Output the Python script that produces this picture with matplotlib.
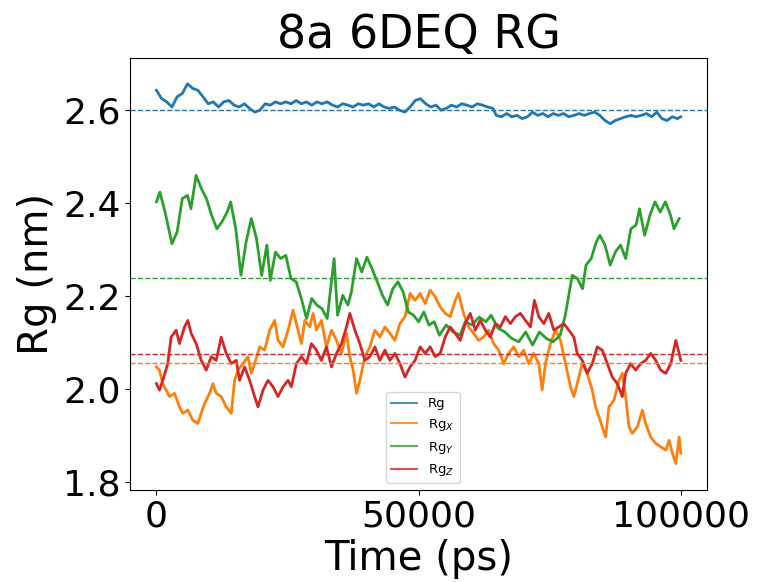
import matplotlib
matplotlib.use('Agg')
import matplotlib.pyplot as plt

# Rg (total)
rg_t = [0, 987, 1974, 2961, 3948, 4935, 5922, 6909, 7896, 8883,
        9870, 10857, 11844, 12831, 13818, 14805, 15792, 16779, 17766, 18753,
        19740, 20727, 21714, 22701, 23688, 24675, 25662, 26649, 27636, 28623,
        29610, 30597, 31584, 32571, 33558, 34545, 35532, 36519, 37506, 38493,
        39480, 40467, 41454, 42441, 43428, 44415, 45402, 46389, 47376, 48363,
        49350, 50337, 51324, 52311, 53298, 54285, 55272, 56259, 57246, 58233,
        59220, 60207, 61194, 62181, 63168, 64155,
        64813, 65800, 66787, 67774, 68761, 69748, 70735, 71722, 72709, 73696,
        74683, 75670, 76657, 77644, 78631, 79618, 80605, 81592, 82579, 83566,
        84553, 85540, 86527, 87514, 88501, 89488, 90475, 91462, 92449, 93436,
        94423, 95410, 96397, 97384, 98371, 99358, 100000]
rg = [2.643, 2.625, 2.618, 2.607, 2.629, 2.636, 2.657, 2.647, 2.643, 2.629,
      2.614, 2.618, 2.607, 2.618, 2.621, 2.611, 2.607, 2.614, 2.604, 2.596,
      2.600, 2.614, 2.611, 2.618, 2.614, 2.618, 2.614, 2.621, 2.614, 2.618,
      2.611, 2.618, 2.614, 2.618, 2.611, 2.607, 2.614, 2.611, 2.607, 2.614,
      2.611, 2.614, 2.607, 2.614, 2.607, 2.604, 2.607, 2.600, 2.596, 2.607,
      2.621, 2.625, 2.614, 2.607, 2.611, 2.600, 2.604, 2.611, 2.607, 2.614,
      2.611, 2.607, 2.614, 2.611, 2.607, 2.604,
      2.589, 2.586, 2.593, 2.586, 2.589, 2.582, 2.586, 2.596, 2.589, 2.593,
      2.586, 2.593, 2.589, 2.593, 2.586, 2.589, 2.593, 2.589, 2.593, 2.596,
      2.589, 2.578, 2.571, 2.578, 2.582, 2.586, 2.589, 2.586, 2.589, 2.593,
      2.586, 2.596, 2.582, 2.578, 2.586, 2.582, 2.586]

# Rg_x
rgx_t = [0, 573, 1210, 1847, 2484, 3440, 4395, 5032, 5988, 6943,
         7899, 8536, 9173, 10128, 10765, 11402, 12358, 13313, 14269, 14906,
         15543, 16498, 17454, 18091, 18728, 19683, 20639, 21594, 22550, 23187,
         24142, 25098, 26053, 27009, 27646, 28283, 29238, 29875, 30512, 31468,
         32423, 33379, 34334, 35290, 36245, 36882, 37519, 38156, 38793, 39749,
         40704, 41660, 42615, 43571, 44526, 45482, 46437, 47393,
         48374, 49330, 50286, 51242, 52198, 53154, 54110, 55066, 56022, 56978,
         57615, 58571, 59527, 60483, 61439, 62395, 63351, 64307, 65263, 66218,
         67174, 68130, 69086, 70042, 70998, 71954, 72910, 73547, 74185, 75141,
         76097, 77053, 78009, 78965, 79602, 80239, 81195, 82151, 83107, 83744,
         84381, 85019, 85656, 86293, 87249, 88206, 88843, 89480, 90117, 90755,
         91711, 92667, 93304, 94260, 95216, 96172, 97128, 97765, 98403, 99040,
         99677, 100000]
rgx = [2.048, 2.041, 2.012, 1.998, 1.984, 1.991, 1.962, 1.948, 1.955, 1.933,
       1.926, 1.948, 1.969, 1.991, 2.012, 1.991, 1.984, 1.962, 1.948, 2.019,
       2.041, 2.055, 2.070, 2.034, 2.055, 2.091, 2.084, 2.127, 2.148, 2.105,
       2.091, 2.127, 2.170, 2.127, 2.098, 2.148, 2.134, 2.163, 2.127, 2.148,
       2.091, 2.127, 2.105, 2.077, 2.120, 2.070, 2.041, 1.991, 2.019, 2.070,
       2.091, 2.127, 2.112, 2.134, 2.120, 2.105, 2.141, 2.156,
       2.206, 2.191, 2.206, 2.184, 2.213, 2.199, 2.177, 2.163, 2.156, 2.191,
       2.206, 2.163, 2.134, 2.120, 2.105, 2.112, 2.127, 2.098, 2.084, 2.055,
       2.077, 2.091, 2.070, 2.084, 2.055, 2.077, 2.055, 1.998, 2.055, 2.098,
       2.127, 2.105, 2.055, 2.005, 1.984, 2.012, 2.055, 2.034, 1.998, 1.962,
       1.941, 1.919, 1.897, 1.962, 1.976, 2.019, 2.034, 1.984, 1.919, 1.905,
       1.919, 1.955, 1.926, 1.897, 1.883, 1.876, 1.869, 1.890, 1.862, 1.840,
       1.897, 1.862]

# Rg_y
rgy_t = [0, 658, 1645, 2961, 3948, 4935, 5922, 6580, 7567, 8554,
         9541, 10528, 11515, 12502, 13489, 14147, 15134, 16121, 17108, 18095,
         19082, 20069, 21056, 21714, 22701, 23688, 24675, 25662, 26649, 27636,
         28623, 29610, 30597, 31584, 32571, 33887, 34545, 35532, 36519, 37177,
         38164, 39151, 40138, 41125, 42112, 43099, 44086, 45073, 46060, 47047,
         48034, 49021, 50008, 50995, 51982, 52969, 53956, 55272, 56588, 57904,
         58891, 60207, 61523, 62839, 63826, 65142, 66458, 67774, 69090, 70406,
         71722, 73038, 74354, 75670, 76986, 77973, 78631, 79289, 80276, 81263,
         81921, 82908, 83895, 84553, 85540, 86527, 87514, 88501, 89488, 90475,
         91462, 92120, 93107, 94094, 95081, 96068, 97055, 98042, 98700, 99687]
rgy = [2.403, 2.424, 2.381, 2.313, 2.338, 2.410, 2.417, 2.388, 2.460, 2.432,
       2.410, 2.374, 2.345, 2.360, 2.381, 2.403, 2.345, 2.245, 2.317, 2.367,
       2.324, 2.245, 2.310, 2.234, 2.295, 2.281, 2.288, 2.238, 2.231, 2.195,
       2.152, 2.195, 2.181, 2.173, 2.152, 2.281, 2.159, 2.202, 2.181, 2.209,
       2.281, 2.252, 2.284, 2.259, 2.231, 2.202, 2.181, 2.216, 2.231, 2.209,
       2.166, 2.159, 2.145, 2.166, 2.138, 2.145, 2.116, 2.138, 2.123, 2.116,
       2.145, 2.138, 2.155, 2.145, 2.159, 2.131, 2.123, 2.109, 2.102, 2.123,
       2.095, 2.123, 2.109, 2.102, 2.116, 2.159, 2.202, 2.245, 2.238, 2.216,
       2.267, 2.281, 2.317, 2.331, 2.310, 2.267, 2.295, 2.310, 2.281, 2.345,
       2.353, 2.388, 2.331, 2.374, 2.403, 2.381, 2.403, 2.374, 2.345, 2.367]

# Rg_z
rgz_t = [0, 573, 1210, 2166, 2803, 3758, 4395, 5351, 5988, 6625,
         7580, 8536, 9491, 10447, 11402, 12358, 13313, 14269, 15224, 15861,
         16817, 17772, 18728, 19365, 20320, 21276, 22231, 23187, 24142, 25098,
         25735, 26690, 27646, 28601, 29557, 30512, 31468, 32423, 33379, 34334,
         35290, 36245, 36882, 37838, 38793, 39749, 40704, 41660, 42615, 43571,
         44526, 45482, 46437, 47393,
         48374, 49330, 50286, 51242, 52198, 53154, 54110, 55066, 56022, 56978,
         57934, 58890, 59846, 60802, 61758, 62714, 63670, 64626, 65582, 66538,
         67493, 68449, 69405, 70361, 71317, 72082, 72910, 73866, 74822, 75778,
         76734, 77690, 78646, 79602, 80239, 81195, 82151, 83107, 84063, 85019,
         85975, 86930, 87887, 88843, 89480, 90436, 91392, 92348, 93304, 94260,
         95216, 96172, 97128, 98084, 99040, 99677, 100000]
rgz = [2.012, 1.998, 2.019, 2.055, 2.112, 2.127, 2.098, 2.134, 2.148, 2.120,
       2.098, 2.062, 2.041, 2.070, 2.062, 2.112, 2.077, 2.055, 2.062, 2.019,
       2.048, 2.019, 1.984, 1.962, 1.998, 2.019, 2.005, 1.984, 2.005, 2.019,
       2.005, 2.055, 2.070, 2.055, 2.098, 2.084, 2.062, 2.091, 2.048, 2.077,
       2.098, 2.134, 2.163, 2.127, 2.098, 2.062, 2.070, 2.091, 2.062, 2.084,
       2.062, 2.077, 2.055, 2.026,
       2.048, 2.062, 2.091, 2.077, 2.091, 2.070, 2.077, 2.112, 2.134, 2.120,
       2.105, 2.141, 2.163, 2.127, 2.148, 2.127, 2.112, 2.141, 2.134, 2.156,
       2.141, 2.156, 2.163, 2.148, 2.134, 2.191, 2.156, 2.141, 2.163, 2.127,
       2.134, 2.141, 2.127, 2.112, 2.077, 2.062, 2.034, 2.055, 2.091, 2.084,
       2.055, 2.026, 2.012, 1.984, 2.034, 2.055, 2.041, 2.055, 2.062, 2.077,
       2.062, 2.041, 2.034, 2.055, 2.105, 2.077, 2.062]

# averages (dashed lines)
rg_mean = 2.600
rgx_mean = 2.057
rgy_mean = 2.239
rgz_mean = 2.075

fig = plt.figure(figsize=(7.57, 5.82), dpi=100)
ax = fig.add_axes([0.172, 0.158, 0.762, 0.742])

ax.plot(rg_t, rg, color='tab:blue', lw=2, label='Rg')
ax.plot(rgx_t, rgx, color='tab:orange', lw=2, label='Rg$_X$')
ax.plot(rgy_t, rgy, color='tab:green', lw=2, label='Rg$_Y$')
ax.plot(rgz_t, rgz, color='tab:red', lw=2, label='Rg$_Z$')

ax.axhline(rg_mean, color='tab:blue', ls='--', lw=1)
ax.axhline(rgx_mean, color='tab:orange', ls='--', lw=1)
ax.axhline(rgy_mean, color='tab:green', ls='--', lw=1)
ax.axhline(rgz_mean, color='tab:red', ls='--', lw=1)

ax.set_xlim(-5000, 105000)
ax.set_ylim(1.783, 2.712)
ax.set_xticks([0, 50000, 100000])
ax.set_yticks([1.8, 2.0, 2.2, 2.4, 2.6])
ax.tick_params(labelsize=26)

ax.set_title('8a 6DEQ RG', fontsize=33)
ax.set_xlabel('Time (ps)', fontsize=29)
ax.set_ylabel('Rg (nm)', fontsize=29)

leg = ax.legend(loc='lower center', bbox_to_anchor=(0.507, 0.0), fontsize=9.5)
for ln in leg.get_lines():
    ln.set_linewidth(1.5)
    ln.set_alpha(0.8)

fig.savefig('out.png', dpi=100)
